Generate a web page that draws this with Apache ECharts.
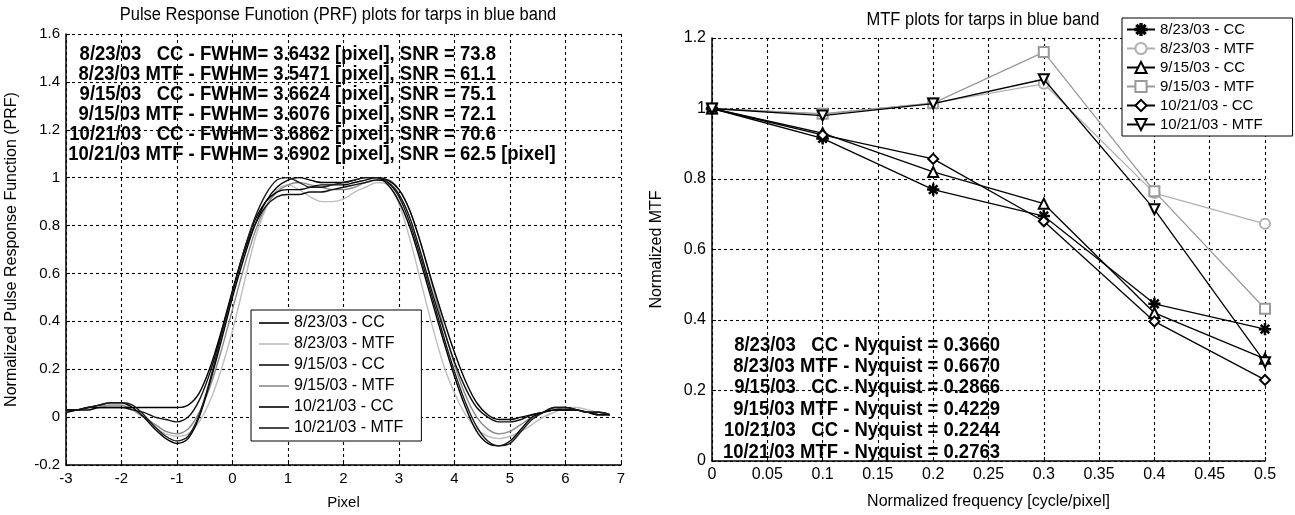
<!DOCTYPE html>
<html><head><meta charset="utf-8">
<script src="https://cdn.jsdelivr.net/npm/echarts@6/dist/echarts.min.js"></script>
<style>html,body{margin:0;padding:0;background:#fff}#c{width:1295px;height:515px}</style>
</head><body><div id="c"></div>
<script>
// ---------- Left chart: PRF ----------
const prfX = [-3.0,-2.8,-2.6,-2.4,-2.2,-2.0,-1.8,-1.6,-1.4,-1.2,-1.0,-0.8,-0.6,-0.4,-0.2,0.0,0.2,0.4,0.6,0.8,1.0,1.2,1.4,1.6,1.8,2.0,2.2,2.4,2.6,2.8,3.0,3.2,3.4,3.6,3.8,4.0,4.2,4.4,4.6,4.8,5.0,5.2,5.4,5.6,5.8,6.0,6.2,6.4,6.6,6.8];
const prf0823CC  = [0.02,0.03,0.04,0.05,0.06,0.06,0.04,0.00,-0.05,-0.09,-0.11,-0.09,0.00,0.15,0.32,0.50,0.66,0.80,0.90,0.96,0.99,1.00,0.99,0.98,0.98,0.98,0.99,1.00,1.00,0.97,0.90,0.79,0.64,0.48,0.32,0.17,0.04,-0.06,-0.11,-0.12,-0.10,-0.05,0.00,0.02,0.04,0.04,0.03,0.02,0.01,0.01];
const prf0823MTF = [0.03,0.03,0.04,0.04,0.05,0.05,0.03,0.00,-0.04,-0.07,-0.08,-0.07,-0.02,0.07,0.20,0.36,0.55,0.74,0.87,0.95,0.97,0.95,0.92,0.90,0.90,0.91,0.94,0.96,0.98,0.97,0.89,0.74,0.56,0.38,0.22,0.10,0.01,-0.05,-0.08,-0.09,-0.08,-0.06,-0.03,0.00,0.02,0.04,0.04,0.03,0.02,0.01];
const prf0915CC  = [0.03,0.03,0.04,0.04,0.04,0.04,0.03,0.02,0.00,-0.01,-0.02,0.00,0.07,0.19,0.35,0.52,0.68,0.80,0.88,0.92,0.93,0.93,0.94,0.94,0.95,0.96,0.97,0.98,0.99,0.98,0.93,0.83,0.68,0.52,0.37,0.23,0.12,0.04,0.00,-0.02,-0.02,-0.01,0.01,0.02,0.03,0.03,0.03,0.02,0.02,0.01];
const prf0915MTF = [0.02,0.03,0.04,0.05,0.05,0.05,0.03,0.00,-0.03,-0.06,-0.07,-0.05,0.02,0.13,0.28,0.45,0.62,0.77,0.88,0.94,0.97,0.98,0.97,0.96,0.95,0.95,0.96,0.98,0.99,0.99,0.95,0.86,0.72,0.55,0.38,0.22,0.09,0.00,-0.05,-0.07,-0.06,-0.03,0.00,0.02,0.03,0.04,0.03,0.02,0.02,0.01];
const prf1021CC  = [0.03,0.03,0.03,0.04,0.04,0.04,0.04,0.04,0.04,0.04,0.04,0.05,0.10,0.21,0.36,0.53,0.69,0.82,0.90,0.94,0.95,0.95,0.96,0.97,0.97,0.97,0.98,0.99,1.00,0.99,0.95,0.86,0.72,0.56,0.41,0.27,0.15,0.06,0.01,-0.01,-0.01,0.00,0.01,0.02,0.03,0.03,0.03,0.02,0.01,0.01];
const prf1021MTF = [0.03,0.03,0.04,0.05,0.06,0.06,0.05,0.01,-0.04,-0.08,-0.10,-0.08,0.01,0.16,0.34,0.52,0.69,0.83,0.93,0.99,1.00,0.98,0.96,0.96,0.97,0.98,0.99,1.00,1.00,0.98,0.92,0.81,0.66,0.50,0.34,0.19,0.06,-0.04,-0.10,-0.12,-0.11,-0.06,-0.01,0.02,0.04,0.04,0.03,0.02,0.02,0.01];
const prfNames = ['8/23/03 - CC','8/23/03 - MTF','9/15/03 - CC','9/15/03 - MTF','10/21/03 - CC','10/21/03 - MTF'];
const prfSeries = [prf0823CC, prf0823MTF, prf0915CC, prf0915MTF, prf1021CC, prf1021MTF];
const prfXTicks = [-3,7,1];
const prfYTicks = [-0.2,1.6,0.2];
const prfNotes = [
  '8/23/03   CC - FWHM= 3.6432 [pixel], SNR = 73.8',
  '8/23/03 MTF - FWHM= 3.5471 [pixel], SNR = 61.1',
  '9/15/03   CC - FWHM= 3.6624 [pixel], SNR = 75.1',
  '9/15/03 MTF - FWHM= 3.6076 [pixel], SNR = 72.1',
  '10/21/03   CC - FWHM= 3.6862 [pixel], SNR = 70.6',
  '10/21/03 MTF - FWHM= 3.6902 [pixel], SNR = 62.5'
];
const prfNoteTail = ['', '', '', '', '', ' [pixel]'];
const prfTitle = 'Pulse Response Funotion (PRF) plots for tarps in blue band';
const prfXName = 'Pixel';
const prfYName = 'Normalized Pulse Response Function (PRF)';

// ---------- Right chart: MTF ----------
const mtfFreq = [0, 0.1, 0.2, 0.3, 0.4, 0.5];
const mtf0823CC  = [1.00, 0.915, 0.77, 0.695, 0.446, 0.374];
const mtf0823MTF = [1.00, 0.985, 1.015, 1.07, 0.76, 0.673];
const mtf0915CC  = [1.00, 0.93, 0.82, 0.73, 0.42, 0.29];
const mtf0915MTF = [1.00, 0.985, 1.015, 1.16, 0.765, 0.432];
const mtf1021CC  = [1.00, 0.925, 0.857, 0.68, 0.396, 0.23];
const mtf1021MTF = [1.00, 0.98, 1.014, 1.083, 0.714, 0.28];
const mtfNames = ['8/23/03 - CC','8/23/03 - MTF','9/15/03 - CC','9/15/03 - MTF','10/21/03 - CC','10/21/03 - MTF'];
const mtfSeries = [mtf0823CC, mtf0823MTF, mtf0915CC, mtf0915MTF, mtf1021CC, mtf1021MTF];
const mtfXTicks = [0,0.5,0.05];
const mtfYTicks = [0,1.2,0.2];
const mtfNotes = [
  '8/23/03   CC - Nyquist = 0.3660',
  '8/23/03 MTF - Nyquist = 0.6670',
  '9/15/03   CC - Nyquist = 0.2866',
  '9/15/03 MTF - Nyquist = 0.4229',
  '10/21/03   CC - Nyquist = 0.2244',
  '10/21/03 MTF - Nyquist = 0.2763'
];
const mtfTitle = 'MTF plots for tarps in blue band';
const mtfXName = 'Normalized frequency [cycle/pixel]';
const mtfYName = 'Normalized MTF';

// ---------- styling ----------
const FONT = '"Liberation Sans", Arial, Helvetica, sans-serif';
const lineColors = ['#000','#bdbdbd','#111','#8a8a8a','#000','#1a1a1a'];
const mtfColors  = ['#000','#b0b0b0','#000','#9a9a9a','#000','#000'];
const ASTER = 'path://M-0.12,-1L0.12,-1L0.12,1L-0.12,1Z M-1,-0.12L1,-0.12L1,0.12L-1,0.12Z M-0.78,-0.62L-0.62,-0.78L0.78,0.62L0.62,0.78Z M0.62,-0.78L0.78,-0.62L-0.62,0.78L-0.78,0.62Z';
const mtfSymbols = [ASTER,'emptyCircle','emptyTriangle','emptyRect','emptyDiamond','emptyTriangle'];
const mtfRot = [0,0,0,0,0,180];

const gridLine = {show:true, lineStyle:{color:'#000', type:[3,3], width:1.1}};
function fmt(v){ return String(+v.toFixed(2)); }

const chart = echarts.init(document.getElementById('c'), null, {renderer:'canvas'});

const series = [];
prfSeries.forEach((d,i)=>{
  series.push({
    name:'P|'+prfNames[i], type:'line', xAxisIndex:0, yAxisIndex:0,
    data: prfX.map((x,k)=>[x,d[k]]), symbol:'none', smooth:0.3,
    lineStyle:{color:lineColors[i], width:1.4}, itemStyle:{color:lineColors[i]},
    z: (i===1||i===3)?2:3, animation:false
  });
});
mtfSeries.forEach((d,i)=>{
  series.push({
    name:'M|'+mtfNames[i], type:'line', xAxisIndex:1, yAxisIndex:1,
    data: mtfFreq.map((x,k)=>[x,d[k]]), symbol:mtfSymbols[i], symbolSize: i===0?11:10,
    symbolRotate: mtfRot[i], showSymbol:true,
    lineStyle:{color:mtfColors[i], width:1.3},
    itemStyle:{color: i===0? '#000' : mtfColors[i], borderColor:mtfColors[i], borderWidth:1.2},
    z:(i===1||i===3)?2:3, animation:false
  });
});

function txt(t, x, y, font, align, sy){
  return {type:'text', z:50, x:x, y:y, scaleY:sy||1,
    style:{text:t, x:0, y:0, fill:'#000', font:font, align:align, textAlign:align, verticalAlign:'middle', textVerticalAlign:'middle'}};
}
const graphics = [];
graphics.push(txt(prfTitle, 338, 15, '16.5px '+FONT, 'center', 1.1));
graphics.push(txt(mtfTitle, 983, 20, '16.5px '+FONT, 'center', 1.1));
prfNotes.forEach((t,i)=>{
  const y = 54 + i*20;
  graphics.push(txt(t, 496, y, 'bold 18.5px '+FONT, 'right', 1.1));
  if (prfNoteTail[i]) graphics.push(txt(prfNoteTail[i], 496, y, 'bold 18.5px '+FONT, 'left', 1.1));
});
mtfNotes.forEach((t,i)=>{
  const y = 345 + i*21.4;
  graphics.push(txt(t, 1000, y, 'bold 18.5px '+FONT, 'right', 1.1));
});

const lineIcon = 'path://M0,0L30,0L30,1.6L0,1.6Z';

function xAx(idx, t, name, gap, nsize){
  return {type:'value', gridIndex:idx, min:t[0], max:t[1], interval:t[2],
    name:name, nameLocation:'middle', nameGap:gap, nameTextStyle:{color:'#000', fontSize:nsize, fontFamily:FONT},
    axisLine:{show:true, onZero:false, lineStyle:{color:'#000', width:1.5}},
    axisTick:{show:true, inside:true, length:4, lineStyle:{color:'#000'}},
    axisLabel:{margin:6, formatter:fmt, color:'#000', fontSize: idx===0?15:16, fontFamily:FONT},
    splitLine:gridLine};
}
function yAx(idx, t, name, gap){
  return {type:'value', gridIndex:idx, min:t[0], max:t[1], interval:t[2],
    name:name, nameLocation:'middle', nameGap:gap, nameTextStyle:{color:'#000', fontSize:16, fontFamily:FONT},
    axisLine:{show:true, onZero:false, lineStyle:{color:'#000', width:1.5}},
    axisTick:{show:true, inside:true, length:4, lineStyle:{color:'#000'}},
    axisLabel:{margin:6, formatter:fmt, color:'#000', fontSize: idx===0?15:16, fontFamily:FONT},
    splitLine:gridLine};
}

const option = {
  backgroundColor:'#fff',
  animation:false,
  grid:[
    {left:66, right:1295-621, top:34, bottom:515-465, containLabel:false},
    {left:712, right:1295-1265, top:38, bottom:515-471, containLabel:false}
  ],
  xAxis:[ xAx(0, prfXTicks, prfXName, 30, 15), xAx(1, mtfXTicks, mtfXName, 33, 16) ],
  yAxis:[ yAx(0, prfYTicks, prfYName, 46), yAx(1, mtfYTicks, mtfYName, 47) ],
  legend:[
    {data:prfNames.map(n=>({name:'P|'+n, icon:lineIcon})), orient:'vertical', left:251, top:310, itemWidth:30, itemHeight:14, itemGap:5,
     padding:[5,18,5,8], borderColor:'#000', borderWidth:1, backgroundColor:'#fff', selectedMode:false, symbolKeepAspect:true,
     formatter:n=>n.split('|')[1], textStyle:{color:'#000', fontSize:16, fontFamily:FONT}, z:40},
    {data:mtfNames.map(n=>'M|'+n), orient:'vertical', left:1122, top:18, itemWidth:28, itemHeight:14, itemGap:4,
     padding:[4,30,4,4], borderColor:'#000', borderWidth:1, backgroundColor:'#fff', selectedMode:false,
     formatter:n=>n.split('|')[1], textStyle:{color:'#000', fontSize:15, fontFamily:FONT}, z:40}
  ],
  series: series,
  graphic: graphics
};
chart.setOption(option);
</script>
</body></html>
